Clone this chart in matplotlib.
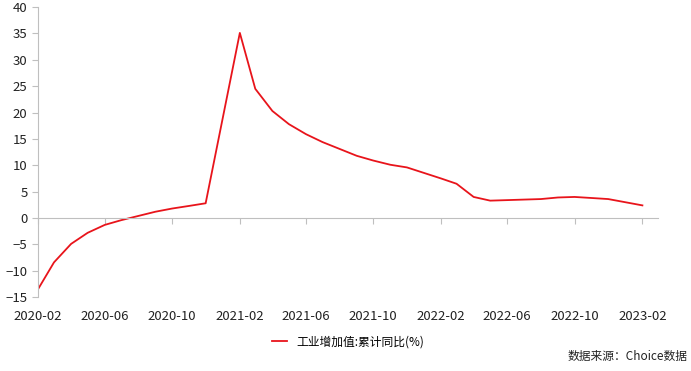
import matplotlib.pyplot as plt
import matplotlib.dates as mdates
import pandas as pd

plt.rcParams['font.family'] = ['Noto Sans CJK SC', 'DejaVu Sans']

# 工业增加值:累计同比(%)，1月数据与2月合并发布，故无1月
months = ['2020-02', '2020-03', '2020-04', '2020-05', '2020-06', '2020-07', '2020-08',
          '2020-09', '2020-10', '2020-11', '2020-12',
          '2021-02', '2021-03', '2021-04', '2021-05', '2021-06', '2021-07', '2021-08',
          '2021-09', '2021-10', '2021-11', '2021-12',
          '2022-02', '2022-03', '2022-04', '2022-05', '2022-06', '2022-07', '2022-08',
          '2022-09', '2022-10', '2022-11', '2022-12',
          '2023-02']
values = [-13.5, -8.4, -4.9, -2.8, -1.3, -0.4, 0.4, 1.2, 1.8, 2.3, 2.8,
          35.1, 24.5, 20.3, 17.8, 15.9, 14.4, 13.1, 11.8, 10.9, 10.1, 9.6,
          7.5, 6.5, 4.0, 3.3, 3.4, 3.5, 3.6, 3.9, 4.0, 3.8, 3.6,
          2.4]
tick_months = ['2020-02', '2020-06', '2020-10', '2021-02', '2021-06', '2021-10',
               '2022-02', '2022-06', '2022-10', '2023-02']
y_ticks = list(range(-15, 41, 5))

dates = pd.to_datetime(months)
tick_dates = pd.to_datetime(tick_months)

fig = plt.figure(figsize=(6.91, 3.71), dpi=100)
ax = fig.add_axes([0.055, 0.199, 0.897, 0.782])

ax.plot(dates, values, color='#E8141B', lw=1.3, label='工业增加值:累计同比(%)')

ax.set_xlim(pd.Timestamp('2020-02-01'), pd.Timestamp('2023-03-01'))
ax.set_ylim(-15, 40)
ax.set_yticks(y_ticks)

grey = '#BFBFBF'
for s in ['top', 'right']:
    ax.spines[s].set_visible(False)
ax.spines['left'].set_color(grey)
ax.spines['bottom'].set_color(grey)
ax.spines['bottom'].set_position(('data', 0))

ax.set_xticks(tick_dates)
ax.tick_params(axis='x', colors=grey, length=4, labelbottom=False)
ax.tick_params(axis='y', colors=grey, length=4, labelcolor='#222222', labelsize=9.5)

# 横轴标签放在图底部
sec = ax.secondary_xaxis('bottom')
sec.set_xticks(tick_dates)
sec.xaxis.set_major_formatter(mdates.DateFormatter('%Y-%m'))
sec.tick_params(length=0, labelsize=9.5, labelcolor='#222222', pad=9)
sec.spines['bottom'].set_visible(False)

ax.legend(loc='upper center', bbox_to_anchor=(0.5, -0.095), frameon=False,
          fontsize=8.5, handlelength=1.3, handletextpad=0.8)

fig.text(0.995, 0.04, '数据来源：Choice数据', ha='right', va='center', fontsize=8.5,
         color='#222222')

fig.savefig('out.png', dpi=100)
